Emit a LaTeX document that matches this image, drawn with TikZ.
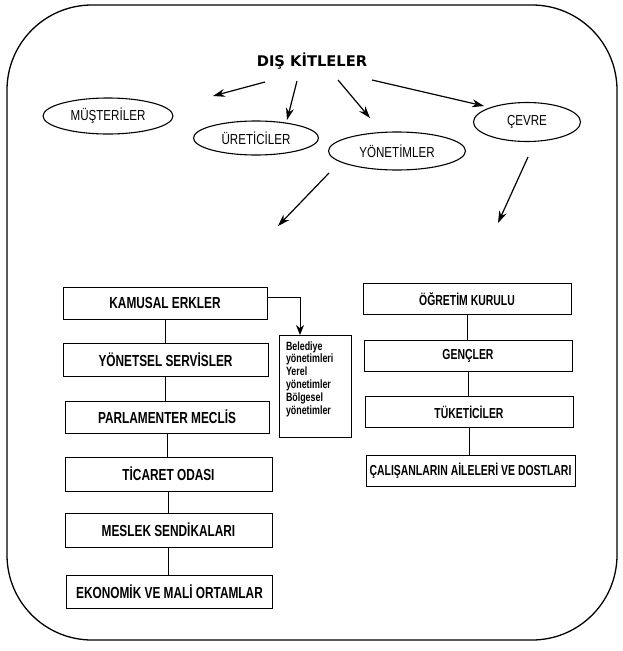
\documentclass[tikz,border=0pt]{standalone}
\usepackage{fontspec}
\setmainfont{Liberation Sans}
\newfontfamily\nar[FakeStretch=0.8]{Liberation Sans}
\newfontfamily\narb[FakeStretch=0.74]{Liberation Sans}
\newfontfamily\narc[FakeStretch=0.72]{Liberation Sans}
\newfontfamily\ttl{DejaVu Sans}
\usetikzlibrary{shapes.geometric,arrows.meta}
\begin{document}
\begin{tikzpicture}[x=1pt,y=-1pt,
 ell/.style={draw,ellipse,line width=1.1pt,inner sep=0pt,font=\nar\fontsize{14.5}{16}\selectfont},
 lbox/.style={draw,line width=1pt,inner sep=0pt,minimum height=32pt,font=\narb\bfseries\fontsize{16}{18}\selectfont},
 rbox/.style={lbox,minimum height=31pt,font=\narc\bfseries\fontsize{14.5}{16}\selectfont},
 arr/.style={line width=1.2pt,-{Stealth[length=12pt,width=8pt]}},
 link/.style={line width=1pt}]
\useasboundingbox (0,0) rectangle (622,651);
\draw[line width=1.3pt,rounded corners=85pt] (7,5) rectangle (617,640);

\node[font=\ttl\bfseries\fontsize{14.7}{17}\selectfont] (dk) at (312,61) {DIŞ KİTLELER};

\node[ell,minimum width=130pt,minimum height=36pt] (mu) at (108,116) {MÜŞTERİLER};
\node[ell,minimum width=125pt,minimum height=34pt] (ur) at (256,138) {ÜRETİCİLER};
\node[ell,minimum width=137pt,minimum height=38pt] (yn) at (397,151) {YÖNETİMLER};
\node[ell,minimum width=107pt,minimum height=39pt] (cv) at (527,122) {ÇEVRE};

\coordinate (s1) at (265,82);  \coordinate (t1) at (213,96);
\coordinate (s2) at (297,81);  \coordinate (t2) at (287,120);
\coordinate (s3) at (338,80);  \coordinate (t3) at (370,118);
\coordinate (s4) at (372,80);  \coordinate (t4) at (484,106);
\draw[arr] (s1) -- (t1);
\draw[arr] (s2) -- (t2);
\draw[arr] (s3) -- (t3);
\draw[arr] (s4) -- (t4);

\coordinate (s5) at (329,173); \coordinate (t5) at (278,226);
\coordinate (s6) at (528,157); \coordinate (t6) at (498,223);
\draw[arr] (s5) -- (t5);
\draw[arr] (s6) -- (t6);

% left column
\node[lbox,minimum width=204pt] (ka) at (165,303) {KAMUSAL ERKLER};
\node[lbox,minimum width=205pt,minimum height=33pt] (ys) at (165.5,360) {YÖNETSEL SERVİSLER};
\node[lbox,minimum width=204pt] (pm) at (167,417) {PARLAMENTER MECLİS};
\node[lbox,minimum width=207pt,minimum height=34pt] (to) at (168.5,474) {TİCARET ODASI};
\node[lbox,minimum width=207pt,minimum height=34pt] (ms) at (168.5,530) {MESLEK SENDİKALARI};
\node[lbox,minimum width=206pt,minimum height=33pt] (em) at (169.5,592) {EKONOMİK VE MALİ ORTAMLAR};

\draw[link] (ka.south) -- (ka.south |- ys.north);
\draw[link] (ys.south) -- (ys.south |- pm.north);
\draw[link] (pm.south) -- (pm.south |- to.north);
\draw[link] (to.south) -- (to.south |- ms.north);
\draw[link] (ms.south) -- (ms.south |- em.north);

% small box
\node[draw,line width=1pt,anchor=north,inner xsep=7pt,inner ysep=6pt,
      font=\narb\bfseries\fontsize{12}{12.8}\selectfont] (be) at (315,335)
 {\parbox[t][90pt][t]{58pt}{\raggedright Belediye\\yönetimleri\\Yerel\\yönetimler\\Bölgesel\\yönetimler}};
\draw[line width=1pt,-{Stealth[length=10pt,width=8pt]}] ([yshift=6pt]ka.east) -| ([xshift=-15pt]be.north);

% right column
\node[rbox,minimum width=208pt] (og) at (467,299) {ÖĞRETİM KURULU};
\node[rbox,minimum width=208pt] (ge) at (468,355.5) {GENÇLER};
\node[rbox,minimum width=208pt] (tu) at (469,412) {TÜKETİCİLER};
\node[rbox,minimum width=209pt] (ca) at (470.5,470.5) {ÇALIŞANLARIN AİLELERİ VE DOSTLARI};

\draw[link] (og.south) -- (og.south |- ge.north);
\draw[link] (ge.south) -- (ge.south |- tu.north);
\draw[link] (tu.south) -- (tu.south |- ca.north);
\end{tikzpicture}
\end{document}
